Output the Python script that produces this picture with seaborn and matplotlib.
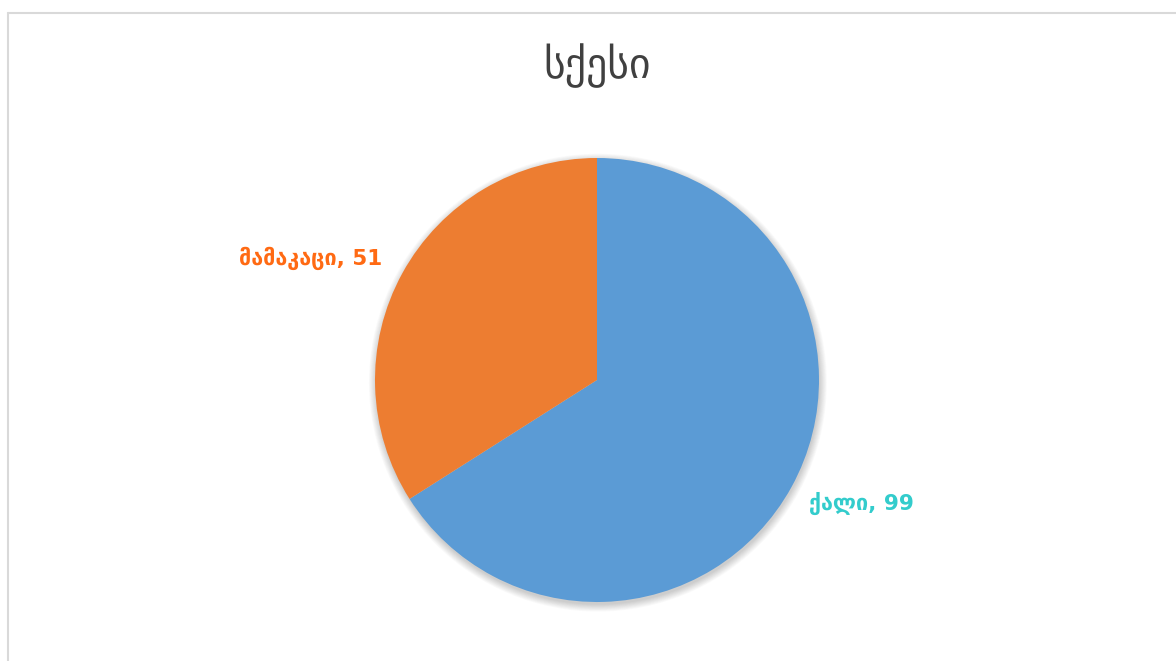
import matplotlib
matplotlib.use("Agg")
import matplotlib.pyplot as plt
from matplotlib.patches import Circle
from matplotlib.lines import Line2D
import seaborn as sns

# Data
title = "სქესი"
categories = ["ქალი", "მამაკაცი"]
counts = [99, 51]
slice_colors = ["#5B9BD5", "#ED7D31"]
label_colors = ["#33CCCC", "#FF6A13"]

sns.set_theme(style="white")
plt.rcParams["font.family"] = ["DejaVu Sans"]

W, H = 1176, 661
fig = plt.figure(figsize=(W / 100, H / 100), dpi=100)
fig.patch.set_facecolor("white")

ax = fig.add_axes([0, 0, 1, 1])

# pie geometry in pixels
cx, cy_top, r = 597, 380, 222
cy = H - cy_top

# soft drop shadow under the pie
for k in range(10):
    ax.add_patch(Circle((0.004, -0.012), 1.0 + 0.0035 * k,
                        facecolor="black", edgecolor="none",
                        alpha=0.018, zorder=0))

wedges, _ = ax.pie(counts, colors=slice_colors, startangle=90,
                   counterclock=False, radius=1.0,
                   wedgeprops=dict(linewidth=0, zorder=2))
for w in wedges:
    w.set_zorder(2)

ax.set_xlim(-cx / r, (W - cx) / r)
ax.set_ylim(-cy / r, (H - cy) / r)
ax.set_aspect("auto")
ax.axis("off")

# data labels
label_pos = [(1.19, -0.554), (-1.29, 0.55)]
for name, val, col, (lx, ly) in zip(categories, counts, label_colors, label_pos):
    ax.text(lx, ly, f"{name}, {val}", color=col, fontsize=15.5,
            fontweight="bold", ha="center", va="center", zorder=3)

# title
fig.text(cx / W, 1 - 66 / H, title, ha="center", va="center",
         fontsize=30, color="#404040")

# chart-area frame (top and left edges visible)
frame_col = "#D9D9D9"
fig.add_artist(Line2D([8 / W, 1.0], [1 - 13 / H, 1 - 13 / H],
                      transform=fig.transFigure, color=frame_col, lw=1.5))
fig.add_artist(Line2D([8 / W, 8 / W], [0.0, 1 - 13 / H],
                      transform=fig.transFigure, color=frame_col, lw=1.5))

fig.savefig("out.png", dpi=100, facecolor="white")
